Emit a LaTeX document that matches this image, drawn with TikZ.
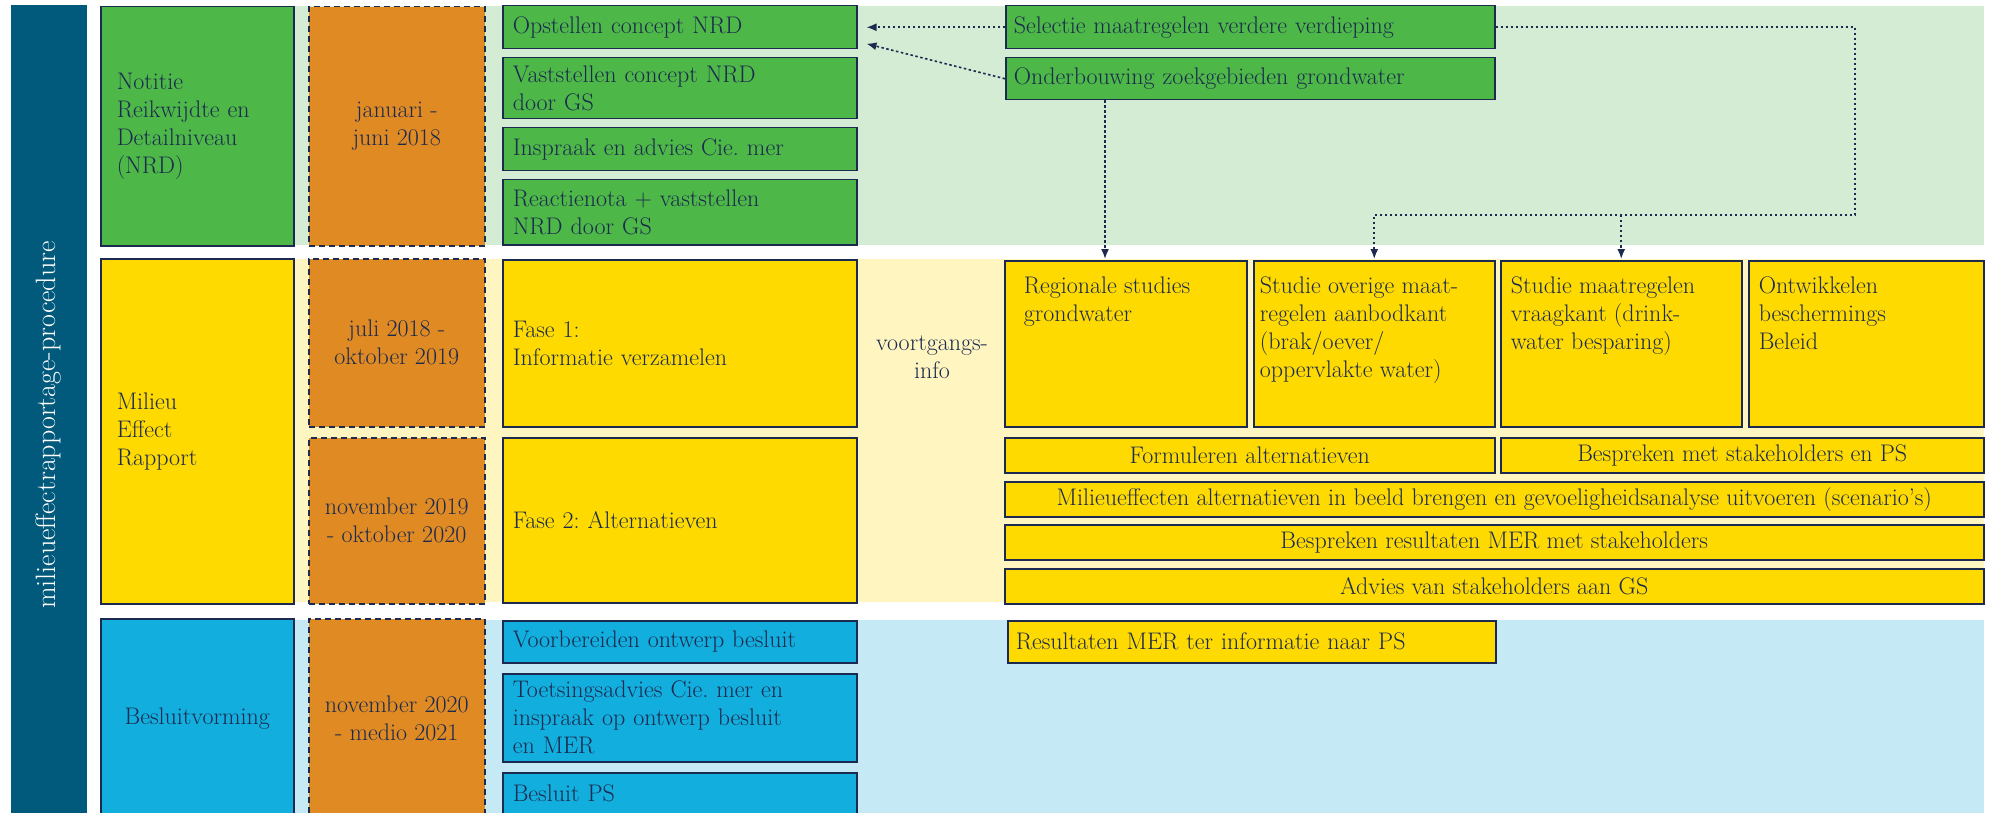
\documentclass[tikz,border=0pt]{standalone}
\usepackage{tikz}
\usetikzlibrary{arrows.meta}
\usepackage{color}
\definecolor{mrNavy}{RGB}{27, 42, 78}
\definecolor{mrTeal}{RGB}{1, 89, 124}
\definecolor{mrGreen}{RGB}{77, 183, 72}
\definecolor{mrOrange}{RGB}{224, 138, 36}
\definecolor{mrYellow}{RGB}{255, 218, 0}
\definecolor{mrBlue}{RGB}{18, 174, 222}
\definecolor{mrLightGreen}{RGB}{211, 236, 211}
\definecolor{mrLightYellow}{RGB}{255, 245, 193}
\definecolor{mrLightBlue}{RGB}{198, 234, 245}

\begin{document}
\begin{tikzpicture} [
    x=1pt, y=-1pt,
    every node/.style = { font=\fontsize{24}{28}\selectfont\frenchspacing, text=mrNavy },
    block/.style      = { rectangle, draw=mrNavy, line width=1.5pt, anchor=north west,
                          inner xsep=10pt, inner ysep=0pt },
    categorie/.style  = { block, minimum width=193pt, text width=161pt,
                          inner xsep=16pt, align=left },
    periode/.style    = { block, fill=mrOrange, dash pattern=on 6pt off 4pt,
                          minimum width=176pt, inner xsep=2pt, align=center },
    taak/.style       = { block, minimum width=354pt, text width=334pt, align=left },
    studie/.style     = { block, fill=mrYellow, inner ysep=13pt },
    balk/.style       = { block, fill=mrYellow, minimum height=35pt, align=center },
    line/.style       = { draw=mrNavy, line width=1.6pt, dash pattern=on 2.5pt off 2.5pt,
                          -{Latex[length=10pt,width=8pt]}, shorten >=1pt },
  ]
\useasboundingbox (0,0) rectangle (1989,813);

%achtergrond per fase
\fill[mrLightGreen]  (293,6)   rectangle (1984,245);
\fill[mrLightYellow] (293,259) rectangle (1984,602);
\fill[mrLightBlue]   (293,620) rectangle (1984,830);

%linker balk
\node[block, fill=mrTeal, draw=mrTeal, rotate=90, anchor=center, minimum width=838pt,
      minimum height=75pt, text=white, font=\fontsize{28}{32}\selectfont] (mep) at (49,425)
     {milieueffectrapportage-procedure};

%fasen
\node[categorie, fill=mrGreen, minimum height=239pt] (nrd) at (100,6)
     {Notitie\\Reikwijdte en\\Detailniveau\\(NRD)};
\node[categorie, fill=mrYellow, minimum height=345pt] (mer) at (100,258)
     {Milieu\\Effect\\Rapport};
\node[categorie, fill=mrBlue, minimum height=200pt, align=center] (besluit) at (100,618)
     {Besluitvorming};

%perioden
\node[periode, minimum height=239pt] (p1) at (308,6)   {januari -\\juni 2018};
\node[periode, minimum height=168pt] (p2) at (308,258) {juli 2018 -\\oktober 2019};
\node[periode, minimum height=166pt] (p3) at (308,437) {november 2019\\- oktober 2020};
\node[periode, minimum height=200pt] (p4) at (308,618) {november 2020\\- medio 2021};

%taken NRD
\node[taak, fill=mrGreen, minimum height=43pt] (opst) at (502,5)   {Opstellen concept NRD};
\node[taak, fill=mrGreen, minimum height=61pt] (vast) at (502,57)  {Vaststellen concept NRD\\door GS};
\node[taak, fill=mrGreen, minimum height=43pt] (insp) at (502,127) {Inspraak en advies Cie. mer};
\node[taak, fill=mrGreen, minimum height=65pt] (reac) at (502,179) {Reactienota + vaststellen\\NRD door GS};

\node[taak, fill=mrGreen, minimum width=489pt, text width=473pt, inner xsep=8pt,
      minimum height=43pt] (sel) at (1005,5) {Selectie maatregelen verdere verdieping};
\node[taak, fill=mrGreen, minimum width=489pt, text width=473pt, inner xsep=8pt,
      minimum height=42pt] (onder) at (1005,57) {Onderbouwing zoekgebieden grondwater};

%taken MER
\node[taak, fill=mrYellow, minimum height=167pt] (fase1) at (502,259) {Fase 1:\\Informatie verzamelen};
\node[taak, fill=mrYellow, minimum height=165pt] (fase2) at (502,437) {Fase 2: Alternatieven};

\node[align=center] (info) at (932,357) {voortgangs-\\info};

\node[studie, inner xsep=19pt] (regio) at (1004,260)
     {\parbox[t][140pt][t]{204pt}{\raggedright\strut Regionale studies\\grondwater}};
\node[studie, inner xsep=6pt] (overig) at (1253,260)
     {\parbox[t][140pt][t]{229pt}{\raggedright\strut Studie overige maat-\\regelen aanbodkant\\(brak/oever/\\oppervlakte water)}};
\node[studie] (maatr) at (1500,260)
     {\parbox[t][140pt][t]{221pt}{\raggedright\strut Studie maatregelen\\vraagkant (drink-\\water besparing)}};
\node[studie] (ontw) at (1748,260)
     {\parbox[t][140pt][t]{215pt}{\raggedright\strut Ontwikkelen\\beschermings\\Beleid}};

\node[balk, minimum width=490pt] (form) at (1004,437) {Formuleren alternatieven};
\node[balk, minimum width=483pt] (bsps) at (1500,437) {Bespreken met stakeholders en PS};
\node[balk, minimum width=979pt, inner xsep=2pt] (effect) at (1004,481)
     {Milieueffecten alternatieven in beeld brengen en gevoeligheidsanalyse uitvoeren (scenario’s)};
\node[balk, minimum width=979pt] (bsres) at (1004,524) {Bespreken resultaten MER met stakeholders};
\node[balk, minimum width=979pt] (advies) at (1004,568) {Advies van stakeholders aan GS};

%taken besluitvorming
\node[taak, fill=mrBlue, minimum height=42pt] (voorb) at (502,620) {Voorbereiden ontwerp besluit};
\node[taak, fill=mrBlue, minimum height=88pt] (toets) at (502,673)
     {Toetsingsadvies Cie. mer en\\inspraak op ontwerp besluit\\en MER};
\node[taak, fill=mrBlue, minimum height=42pt] (bps) at (502,772) {Besluit PS};

\node[taak, fill=mrYellow, minimum width=488pt, text width=472pt, inner xsep=8pt,
      minimum height=42pt] (resps) at (1007,620) {Resultaten MER ter informatie naar PS};

%gestippelde pijlen
\coordinate (knik) at (1855,215);
\begin{scope} [every path/.style={line}]
  \path (sel.west) -- ([xshift=8pt]opst.east);
  \path (onder.west) -- ([xshift=8pt, yshift=6pt]opst.south east);
  \path ([xshift=100pt]onder.south west) -- ([xshift=101pt]regio.north west);
  \path (sel.east) -| (knik) -| (overig.north);
  \path (knik -| maatr.north) -- (maatr.north);
\end{scope}
\end{tikzpicture}
\end{document}
